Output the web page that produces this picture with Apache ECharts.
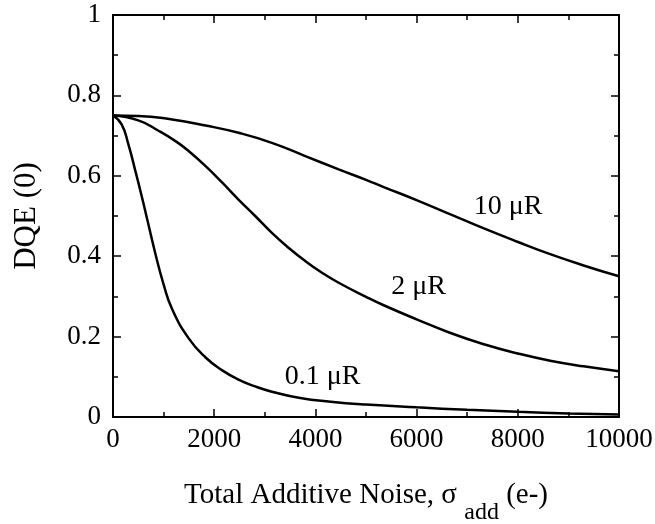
<!DOCTYPE html>
<html>
<head>
<meta charset="utf-8">
<script src="https://cdn.jsdelivr.net/npm/echarts@6/dist/echarts.min.js"></script>
<style>
  html, body { margin: 0; padding: 0; background: #fff; }
  #chart { width: 655px; height: 524px; }
</style>
</head>
<body>
<div id="chart"></div>
<script>
var noiseLow = [0, 170, 300, 440, 570, 670, 840, 1000, 1170, 1500, 1830, 2160, 2480, 2810, 3140, 3700, 4300, 5000, 6000, 7000, 8000, 9000, 10000];
var dqeLow = [0.75, 0.728, 0.680, 0.613, 0.548, 0.495, 0.405, 0.330, 0.268, 0.195, 0.148, 0.116, 0.093, 0.076, 0.063, 0.047, 0.038, 0.031, 0.024, 0.018, 0.013, 0.009, 0.006];

var noiseMid = [0, 500, 900, 1250, 1500, 1830, 2160, 2480, 2810, 3140, 3470, 3800, 4130, 4460, 5000, 5350, 6000, 6670, 7330, 8000, 8640, 9300, 10000];
var dqeMid = [0.75, 0.738, 0.712, 0.685, 0.661, 0.624, 0.583, 0.541, 0.500, 0.458, 0.421, 0.388, 0.359, 0.334, 0.299, 0.278, 0.243, 0.209, 0.181, 0.158, 0.140, 0.126, 0.114];

var noiseHigh = [0, 500, 1170, 1830, 2480, 3140, 3800, 4460, 5000, 5350, 6010, 6670, 7330, 7990, 8640, 9300, 10000];
var dqeHigh = [0.75, 0.749, 0.740, 0.725, 0.707, 0.682, 0.649, 0.616, 0.590, 0.572, 0.539, 0.504, 0.469, 0.436, 0.405, 0.377, 0.350];

var curveNames = ['0.1 \u03bcR', '2 \u03bcR', '10 \u03bcR'];
var labelAt = [[4140, 0.10], [6040, 0.325], [7810, 0.524]];

var xTicks = { min: 0, max: 10000, interval: 2000 };
var yTicks = { min: 0, max: 1, interval: 0.2 };

var serif = '"Liberation Serif", "DejaVu Serif", serif';

function pairs(xs, ys) {
    var out = [];
    for (var i = 0; i < xs.length; i++) {
        out.push([xs[i], ys[i]]);
    }
    return out;
}

var chart = echarts.init(document.getElementById('chart'));

function axisBase(pos, showLabel) {
    return {
        type: 'value',
        position: pos,
        axisLine: { show: true, onZero: false, lineStyle: { color: '#000', width: 2 } },
        axisTick: { show: true, inside: true, length: 8, lineStyle: { color: '#000', width: 1.5 } },
        minorTick: { show: true, splitNumber: 2, length: 5, lineStyle: { color: '#000', width: 1.5 } },
        splitLine: { show: false },
        axisLabel: {
            show: showLabel, color: '#000', fontFamily: serif, fontSize: 27,
            formatter: function (v) { return String(v); }
        }
    };
}

var xBottom = axisBase('bottom', true);
Object.assign(xBottom, xTicks);
xBottom.axisLabel.margin = 9;
xBottom.name = 'Total Additive Noise, \u03c3 {sub|add} (e-)';
xBottom.nameLocation = 'middle';
xBottom.nameGap = 48;
xBottom.nameTextStyle = {
    color: '#000', fontFamily: serif, fontSize: 29, lineHeight: 30, verticalAlign: 'top',
    rich: {
        sub: { color: '#000', fontFamily: serif, fontSize: 24, lineHeight: 60, verticalAlign: 'bottom' }
    }
};

var xTop = axisBase('top', false);
Object.assign(xTop, xTicks);

var yLeft = axisBase('left', true);
Object.assign(yLeft, yTicks);
yLeft.axisLabel.margin = 12;
yLeft.name = 'DQE (0)';
yLeft.nameLocation = 'middle';
yLeft.nameGap = 71;
yLeft.nameTextStyle = { color: '#000', fontFamily: serif, fontSize: 31 };

var yRight = axisBase('right', false);
Object.assign(yRight, yTicks);

var seriesData = [pairs(noiseLow, dqeLow), pairs(noiseMid, dqeMid), pairs(noiseHigh, dqeHigh)];
var series = [];
for (var i = 0; i < seriesData.length; i++) {
    series.push({
        type: 'line',
        name: curveNames[i],
        data: seriesData[i],
        smooth: 0.5,
        showSymbol: false,
        lineStyle: { color: '#000', width: 2.5 },
        markPoint: {
            symbol: 'circle',
            symbolSize: 0,
            data: [{ coord: labelAt[i], value: curveNames[i] }],
            label: {
                show: true, position: 'inside', formatter: curveNames[i],
                color: '#000', fontFamily: serif, fontSize: 28
            }
        }
    });
}

chart.setOption({
    animation: false,
    grid: { left: 113, right: 36, top: 15, bottom: 107, outerBoundsMode: 'none', containLabel: false },
    xAxis: [xBottom, xTop],
    yAxis: [yLeft, yRight],
    series: series
});
</script>
</body>
</html>
